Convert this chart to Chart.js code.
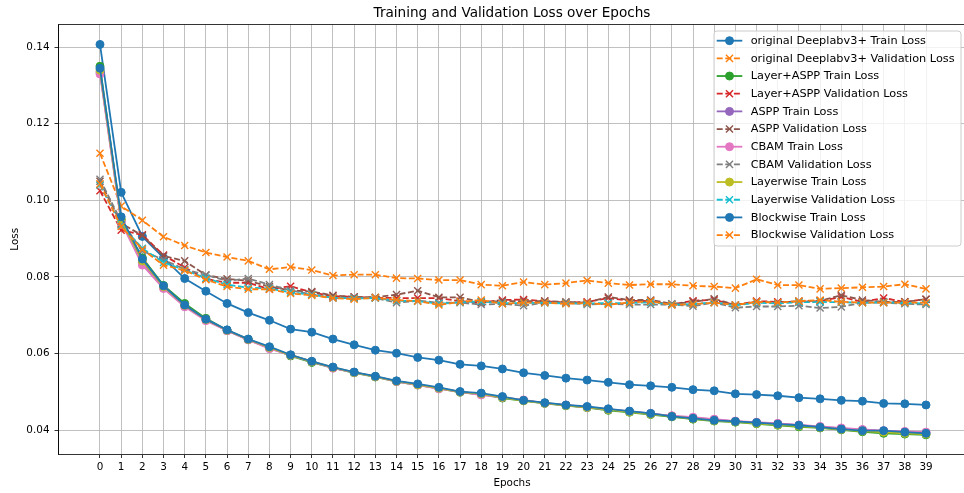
<!DOCTYPE html>
<html>
<head>
<meta charset="utf-8">
<script src="https://cdn.jsdelivr.net/npm/chart.js@4.4.1/dist/chart.umd.min.js"></script>
<style>
html,body{margin:0;padding:0;background:#fff;overflow:hidden;width:964px;height:493px;}
canvas{display:block;}
</style>
</head>
<body>
<canvas id="c" width="964" height="493" style="width:964px;height:493px"></canvas>
<script>
const epochs = Array.from({length: 40}, (_, i) => i);
const yTicks = [0.04, 0.06, 0.08, 0.10, 0.12, 0.14];

const originalTrain = [0.1407,0.1021,0.0906,0.0850,0.0796,0.0763,0.0731,0.0707,0.0687,0.0664,0.0656,0.0638,0.0623,0.0609,0.0601,0.0590,0.0583,0.0572,0.0568,0.0560,0.0550,0.0543,0.0536,0.0531,0.0525,0.0519,0.0516,0.0512,0.0506,0.0503,0.0495,0.0493,0.0490,0.0485,0.0482,0.0478,0.0476,0.0470,0.0469,0.0466];
const originalVal = [0.1123,0.0985,0.0948,0.0905,0.0882,0.0864,0.0852,0.0842,0.0820,0.0826,0.0818,0.0804,0.0806,0.0806,0.0797,0.0796,0.0792,0.0792,0.0780,0.0777,0.0787,0.0780,0.0784,0.0791,0.0784,0.0779,0.0781,0.0781,0.0777,0.0775,0.0771,0.0794,0.0779,0.0779,0.0769,0.0771,0.0773,0.0775,0.0781,0.0769];
const layerAsppTrain = [0.1350,0.0950,0.0850,0.0778,0.0731,0.0692,0.0661,0.0637,0.0616,0.0594,0.0577,0.0563,0.0550,0.0539,0.0527,0.0518,0.0509,0.0499,0.0494,0.0484,0.0477,0.0470,0.0464,0.0459,0.0452,0.0447,0.0441,0.0435,0.0429,0.0424,0.0421,0.0417,0.0413,0.0409,0.0406,0.0401,0.0396,0.0392,0.0390,0.0388];
const layerAsppVal = [0.1025,0.0922,0.0910,0.0857,0.0825,0.0795,0.0785,0.0785,0.0768,0.0776,0.0760,0.0750,0.0748,0.0746,0.0745,0.0745,0.0745,0.0737,0.0733,0.0740,0.0741,0.0737,0.0733,0.0735,0.0745,0.0738,0.0737,0.0728,0.0738,0.0740,0.0727,0.0737,0.0735,0.0735,0.0737,0.0748,0.0735,0.0745,0.0735,0.0742];
const asppTrain = [0.1335,0.0945,0.0838,0.0773,0.0724,0.0688,0.0660,0.0636,0.0614,0.0596,0.0579,0.0563,0.0551,0.0540,0.0528,0.0519,0.0510,0.0500,0.0494,0.0486,0.0478,0.0471,0.0465,0.0460,0.0454,0.0449,0.0444,0.0437,0.0432,0.0428,0.0423,0.0420,0.0417,0.0413,0.0409,0.0405,0.0401,0.0398,0.0396,0.0394];
const asppVal = [0.1050,0.0940,0.0908,0.0855,0.0842,0.0805,0.0795,0.0790,0.0775,0.0765,0.0762,0.0752,0.0748,0.0747,0.0754,0.0764,0.0747,0.0747,0.0735,0.0737,0.0737,0.0737,0.0735,0.0733,0.0748,0.0740,0.0740,0.0730,0.0735,0.0743,0.0727,0.0735,0.0733,0.0737,0.0738,0.0752,0.0740,0.0735,0.0735,0.0742];
const cbamTrain = [0.1330,0.0943,0.0831,0.0770,0.0722,0.0686,0.0660,0.0636,0.0613,0.0596,0.0579,0.0562,0.0551,0.0540,0.0527,0.0518,0.0508,0.0500,0.0492,0.0486,0.0479,0.0471,0.0466,0.0460,0.0455,0.0449,0.0443,0.0438,0.0434,0.0429,0.0424,0.0421,0.0418,0.0414,0.0410,0.0406,0.0402,0.0399,0.0397,0.0395];
const cbamVal = [0.1055,0.0945,0.0868,0.0845,0.0820,0.0805,0.0790,0.0796,0.0780,0.0765,0.0755,0.0745,0.0745,0.0745,0.0733,0.0738,0.0733,0.0733,0.0728,0.0730,0.0725,0.0733,0.0733,0.0728,0.0730,0.0728,0.0728,0.0728,0.0724,0.0733,0.0720,0.0723,0.0723,0.0725,0.0719,0.0722,0.0733,0.0733,0.0730,0.0728];
const layerwiseTrain = [0.1340,0.0950,0.0842,0.0775,0.0726,0.0689,0.0661,0.0637,0.0616,0.0596,0.0579,0.0564,0.0551,0.0540,0.0528,0.0519,0.0510,0.0500,0.0495,0.0486,0.0477,0.0471,0.0465,0.0460,0.0454,0.0448,0.0442,0.0436,0.0430,0.0425,0.0422,0.0418,0.0414,0.0411,0.0407,0.0402,0.0398,0.0395,0.0392,0.0390];
const layerwiseVal = [0.1040,0.0935,0.0875,0.0838,0.0818,0.0797,0.0780,0.0772,0.0770,0.0760,0.0754,0.0746,0.0744,0.0745,0.0738,0.0737,0.0730,0.0734,0.0736,0.0732,0.0732,0.0733,0.0731,0.0731,0.0732,0.0732,0.0734,0.0728,0.0729,0.0734,0.0726,0.0733,0.0731,0.0734,0.0735,0.0734,0.0733,0.0734,0.0732,0.0731];
const blockwiseTrain = [0.1345,0.0957,0.0847,0.0777,0.0727,0.0690,0.0662,0.0638,0.0618,0.0597,0.0580,0.0565,0.0552,0.0541,0.0529,0.0521,0.0512,0.0501,0.0497,0.0488,0.0478,0.0472,0.0466,0.0462,0.0456,0.0450,0.0444,0.0436,0.0431,0.0426,0.0423,0.0420,0.0416,0.0413,0.0408,0.0403,0.0399,0.0399,0.0395,0.0392];
const blockwiseVal = [0.1043,0.0932,0.0872,0.0831,0.0817,0.0793,0.0775,0.0768,0.0768,0.0757,0.0752,0.0745,0.0742,0.0746,0.0740,0.0737,0.0727,0.0735,0.0740,0.0730,0.0733,0.0733,0.0730,0.0732,0.0728,0.0733,0.0737,0.0727,0.0729,0.0733,0.0727,0.0735,0.0733,0.0737,0.0740,0.0735,0.0733,0.0733,0.0733,0.0733];

const seriesLabels = [
  'original Deeplabv3+ Train Loss','original Deeplabv3+ Validation Loss',
  'Layer+ASPP Train Loss','Layer+ASPP Validation Loss',
  'ASPP Train Loss','ASPP Validation Loss',
  'CBAM Train Loss','CBAM Validation Loss',
  'Layerwise Train Loss','Layerwise Validation Loss',
  'Blockwise Train Loss','Blockwise Validation Loss'
];
const seriesValues = [originalTrain, originalVal, layerAsppTrain, layerAsppVal, asppTrain, asppVal, cbamTrain, cbamVal, layerwiseTrain, layerwiseVal, blockwiseTrain, blockwiseVal];
const palette = ['#1f77b4','#ff7f0e','#2ca02c','#d62728','#9467bd','#8c564b','#e377c2','#7f7f7f','#bcbd22','#17becf','#1f77b4','#ff7f0e'];

const FONT = '"DejaVu Sans", sans-serif';
const DASH = [6, 2.6];

const datasets = seriesValues.map((vals, i) => {
  const isVal = i % 2 === 1;
  return {
    label: seriesLabels[i],
    data: vals.map((v, k) => ({x: epochs[k], y: v})),
    borderColor: palette[i],
    backgroundColor: palette[i],
    borderWidth: 1.8,
    borderDash: isVal ? DASH : [],
    pointStyle: isVal ? 'crossRot' : 'circle',
    pointRadius: isVal ? 5 : 4,
    pointBorderWidth: isVal ? 1.4 : 1,
    pointBackgroundColor: palette[i],
    pointBorderColor: palette[i],
    pointHoverRadius: 4,
    tension: 0,
    fill: false,
    order: -i
  };
});

const framePlugin = {
  id: 'frame',
  afterDraw(chart) {
    const ctx = chart.ctx, a = chart.chartArea;
    ctx.save();
    ctx.strokeStyle = '#000';
    ctx.lineWidth = 0.8;
    ctx.beginPath();
    ctx.moveTo(a.left, a.bottom); ctx.lineTo(a.left, a.top); ctx.lineTo(a.right + 2, a.top);
    ctx.stroke();
    ctx.fillStyle = '#000';
    ctx.font = '13.6px ' + FONT;
    ctx.textAlign = 'center';
    ctx.textBaseline = 'middle';
    const cx = 512;
    ctx.fillText('Training and Validation Loss over Epochs', cx, 13);
    ctx.font = '10.4px ' + FONT;
    ctx.fillText('Epochs', cx, 483);
    ctx.save();
    ctx.translate(15, (a.top + a.bottom) / 2);
    ctx.rotate(-Math.PI / 2);
    ctx.fillText('Loss', 0, 0);
    ctx.restore();
    // legend
    const lx = 714, ly = 31, lw = 247, lh = 215, r = 3;
    ctx.beginPath();
    ctx.moveTo(lx + r, ly);
    ctx.arcTo(lx + lw, ly, lx + lw, ly + lh, r);
    ctx.arcTo(lx + lw, ly + lh, lx, ly + lh, r);
    ctx.arcTo(lx, ly + lh, lx, ly, r);
    ctx.arcTo(lx, ly, lx + lw, ly, r);
    ctx.closePath();
    ctx.fillStyle = 'rgba(255,255,255,0.8)';
    ctx.fill();
    ctx.strokeStyle = '#cccccc';
    ctx.lineWidth = 1;
    ctx.stroke();
    ctx.font = '11.3px ' + FONT;
    ctx.textAlign = 'left';
    ctx.textBaseline = 'middle';
    chart.data.datasets.forEach((ds, i) => {
      const y = 40.7 + i * 17.67;
      ctx.save();
      ctx.strokeStyle = ds.borderColor;
      ctx.lineWidth = ds.borderWidth;
      ctx.setLineDash(ds.borderDash);
      ctx.beginPath();
      ctx.moveTo(716.7, y); ctx.lineTo(742.3, y);
      ctx.stroke();
      ctx.setLineDash([]);
      ctx.fillStyle = ds.pointBackgroundColor;
      ctx.strokeStyle = ds.pointBorderColor;
      ctx.lineWidth = ds.pointBorderWidth;
      Chart.helpers.drawPoint(ctx, {pointStyle: ds.pointStyle, radius: ds.pointRadius, borderWidth: ds.pointBorderWidth, rotation: 0}, 729.5, y);
      ctx.restore();
      ctx.fillStyle = '#000';
      ctx.fillText(ds.label, 750.7, y + 0.5);
    });
    ctx.restore();
  }
};

new Chart(document.getElementById('c'), {
  type: 'line',
  data: {datasets},
  options: {
    responsive: false,
    animation: false,
    devicePixelRatio: 1,
    layout: {autoPadding: false, padding: {top: 24.5, right: 0, bottom: 0, left: 0}},
    plugins: {legend: {display: false}, title: {display: false}, tooltip: {enabled: false}},
    events: [],
    scales: {
      x: {
        type: 'linear',
        min: -1.959, max: 40.794,
        afterBuildTicks: s => { s.ticks = epochs.map(v => ({value: v})); },
        afterFit: s => { s.height = 39; s.paddingLeft = 0; s.paddingRight = 0; },
        ticks: {autoSkip: false, maxRotation: 0, padding: 3, color: '#000', font: {family: FONT, size: 10.4}, callback: v => String(v)},
        grid: {color: '#b0b0b0', lineWidth: 0.8, tickLength: 4, tickColor: '#000', tickWidth: 0.8},
        border: {display: true, color: '#000', width: 0.8}
      },
      y: {
        type: 'linear',
        min: 0.0338, max: 0.1459,
        afterBuildTicks: s => { s.ticks = yTicks.map(v => ({value: v})); },
        afterFit: s => { s.width = 58.5; s.paddingTop = 0; s.paddingBottom = 0; },
        ticks: {padding: 5, color: '#000', font: {family: FONT, size: 10.4}, callback: v => Number(v).toFixed(2)},
        grid: {color: '#b0b0b0', lineWidth: 0.8, tickLength: 4, tickColor: '#000', tickWidth: 0.8},
        border: {display: true, color: '#000', width: 0.8}
      }
    }
  },
  plugins: [framePlugin]
});
</script>
</body>
</html>
